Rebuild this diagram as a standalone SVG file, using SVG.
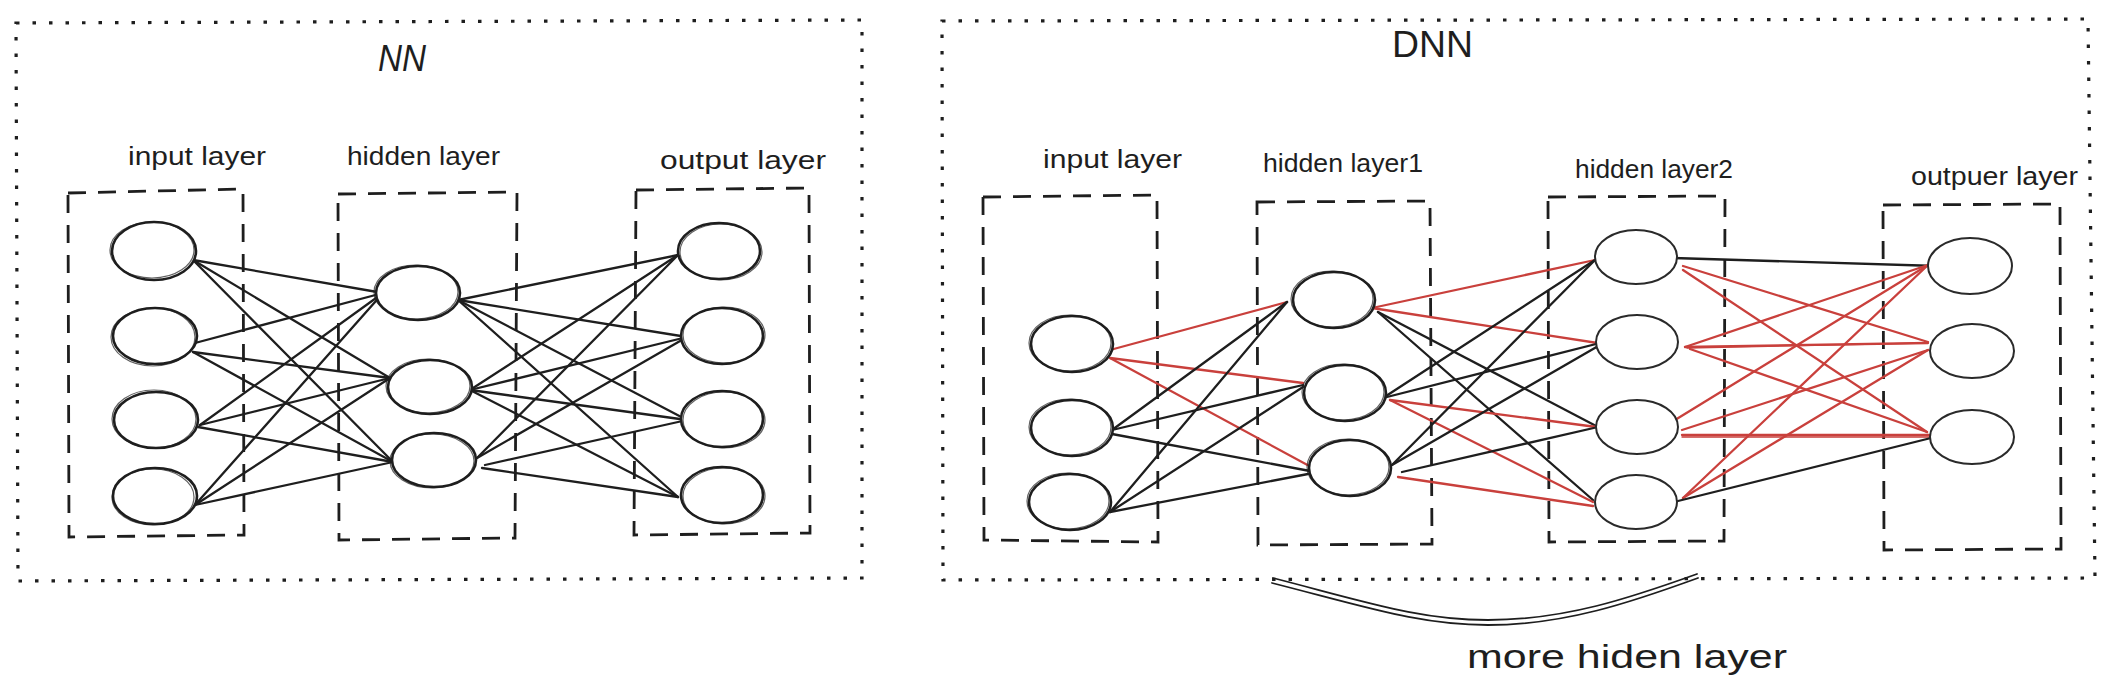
<svg xmlns="http://www.w3.org/2000/svg" width="2116" height="684" viewBox="0 0 2116 684">
<style>
.bg{fill:#ffffff}
.outer{fill:none;stroke:#1e1e1e;stroke-width:3.2;stroke-dasharray:3.5 13;stroke-linecap:butt}
.layer{fill:none;stroke:#1e1e1e;stroke-width:2.8;stroke-dasharray:18 12}
.node{fill:#ffffff;stroke:#1e1e1e;stroke-width:2.6}
.node2{fill:none;stroke:#1e1e1e;stroke-width:1.2;opacity:0.7}
.thin{fill:#ffffff;stroke:#2a2a2a;stroke-width:2}
.k{stroke:#1e1e1e;stroke-width:2.3;fill:none;stroke-linecap:round}
.r{stroke:#c9403c;stroke-width:2.3;fill:none;stroke-linecap:round}
.lbl{font-family:"Liberation Sans",Arial,sans-serif;font-size:25px;fill:#1e1e1e}
.ttl{font-family:"Liberation Sans",Arial,sans-serif;font-size:36px;fill:#1e1e1e;font-style:italic}
.big{font-family:"Liberation Sans",Arial,sans-serif;font-size:34px;fill:#1e1e1e}
</style>
<rect class="bg" x="0" y="0" width="2116" height="684"/>

<!-- outer frames -->
<g id="frame-nn">
<path class="outer" d="M16,23 L862,20 L862,578 L18,581 Z"/>
<text class="ttl" x="378" y="71" textLength="48" lengthAdjust="spacingAndGlyphs">NN</text>
</g>
<g id="frame-dnn">
<path class="outer" d="M942,21 L2088,19 L2095,578 L943,580 Z"/>
<text class="ttl" x="1392" y="57" textLength="81" lengthAdjust="spacingAndGlyphs" style="font-style:normal">DNN</text>
</g>

<!-- layer boxes -->
<g id="nn-input-layer">
<path class="layer" d="M68,193 L243,189 L244,535 L69,537 Z"/>
<text class="lbl" x="128" y="165" textLength="138" lengthAdjust="spacingAndGlyphs">input layer</text>
</g>
<g id="nn-hidden-layer">
<path class="layer" d="M338,194 L517,192 L515,538 L339,540 Z"/>
<text class="lbl" x="347" y="165" textLength="153" lengthAdjust="spacingAndGlyphs">hidden layer</text>
</g>
<g id="nn-output-layer">
<path class="layer" d="M636,190 L809,188 L810,533 L634,535 Z"/>
<text class="lbl" x="660" y="169" textLength="166" lengthAdjust="spacingAndGlyphs">output layer</text>
</g>
<g id="dnn-input-layer">
<path class="layer" d="M983,197 L1157,195 L1158,542 L984,540 Z"/>
<text class="lbl" x="1043" y="168" textLength="139" lengthAdjust="spacingAndGlyphs">input layer</text>
</g>
<g id="dnn-hidden-layer1">
<path class="layer" d="M1257,202 L1430,201 L1432,544 L1258,545 Z"/>
<text class="lbl" x="1263" y="172" textLength="160" lengthAdjust="spacingAndGlyphs">hidden layer1</text>
</g>
<g id="dnn-hidden-layer2">
<path class="layer" d="M1548,197 L1725,196 L1724,541 L1549,542 Z"/>
<text class="lbl" x="1575" y="178" textLength="158" lengthAdjust="spacingAndGlyphs">hidden layer2</text>
</g>
<g id="dnn-output-layer">
<path class="layer" d="M1883,205 L2060,204 L2061,549 L1884,550 Z"/>
<text class="lbl" x="1911" y="185" textLength="167" lengthAdjust="spacingAndGlyphs">outpuer layer</text>
</g>

<!-- connectors -->
<g id="connectors">
<!-- NN input -> hidden -->
<line class="k" x1="193" y1="260" x2="383" y2="293"/>
<line class="k" x1="193" y1="260" x2="390" y2="378"/>
<line class="k" x1="193" y1="260" x2="393" y2="462"/>
<line class="k" x1="195" y1="343" x2="383" y2="293"/>
<line class="k" x1="193" y1="352" x2="390" y2="378"/>
<line class="k" x1="193" y1="352" x2="393" y2="462"/>
<line class="k" x1="200" y1="425" x2="383" y2="293"/>
<line class="k" x1="200" y1="425" x2="390" y2="378"/>
<line class="k" x1="198" y1="427" x2="393" y2="462"/>
<line class="k" x1="195" y1="505" x2="383" y2="293"/>
<line class="k" x1="195" y1="505" x2="390" y2="378"/>
<line class="k" x1="195" y1="505" x2="393" y2="462"/>
<!-- NN hidden -> output -->
<line class="k" x1="458" y1="300" x2="678" y2="255"/>
<line class="k" x1="458" y1="300" x2="687" y2="337"/>
<line class="k" x1="458" y1="300" x2="687" y2="420"/>
<line class="k" x1="458" y1="300" x2="678" y2="497"/>
<line class="k" x1="470" y1="390" x2="678" y2="255"/>
<line class="k" x1="470" y1="390" x2="687" y2="337"/>
<line class="k" x1="470" y1="390" x2="687" y2="420"/>
<line class="k" x1="470" y1="390" x2="678" y2="497"/>
<line class="k" x1="477" y1="458" x2="678" y2="255"/>
<line class="k" x1="477" y1="458" x2="687" y2="337"/>
<line class="k" x1="485" y1="465" x2="687" y2="420"/>
<line class="k" x1="482" y1="468" x2="678" y2="497"/>

<!-- DNN input -> hidden1 -->
<line class="r" x1="1110" y1="350" x2="1287" y2="302"/>
<line class="r" x1="1110" y1="358" x2="1303" y2="383"/>
<line class="r" x1="1110" y1="358" x2="1313" y2="468"/>
<line class="k" x1="1112" y1="430" x2="1287" y2="302"/>
<line class="k" x1="1112" y1="430" x2="1303" y2="385"/>
<line class="k" x1="1112" y1="434" x2="1310" y2="471"/>
<line class="k" x1="1110" y1="512" x2="1287" y2="302"/>
<line class="k" x1="1110" y1="512" x2="1303" y2="387"/>
<line class="k" x1="1110" y1="512" x2="1308" y2="474"/>
<!-- DNN hidden1 -> hidden2 -->
<line class="r" x1="1372" y1="308" x2="1595" y2="260"/>
<line class="r" x1="1372" y1="308" x2="1604" y2="344"/>
<line class="k" x1="1378" y1="312" x2="1598" y2="427"/>
<line class="k" x1="1378" y1="312" x2="1593" y2="500"/>
<line class="k" x1="1383" y1="398" x2="1595" y2="260"/>
<line class="k" x1="1383" y1="398" x2="1600" y2="343"/>
<line class="r" x1="1390" y1="400" x2="1604" y2="428"/>
<line class="r" x1="1390" y1="400" x2="1593" y2="502"/>
<line class="k" x1="1392" y1="465" x2="1595" y2="260"/>
<line class="k" x1="1392" y1="465" x2="1600" y2="345"/>
<line class="k" x1="1402" y1="472" x2="1598" y2="427"/>
<line class="r" x1="1398" y1="477" x2="1593" y2="506"/>
<!-- DNN hidden2 -> output -->
<line class="k" x1="1673" y1="258" x2="1937" y2="266"/>
<line class="r" x1="1683" y1="266" x2="1928" y2="342"/>
<line class="r" x1="1683" y1="270" x2="1927" y2="432"/>
<line class="r" x1="1685" y1="347" x2="1928" y2="265"/>
<line class="r" x1="1685" y1="347" x2="1928" y2="343"/>
<line class="r" x1="1687" y1="348" x2="1928" y2="343" style="stroke-width:1.4"/>
<line class="r" x1="1690" y1="349" x2="1927" y2="432"/>
<line class="r" x1="1675" y1="420" x2="1928" y2="265"/>
<line class="r" x1="1682" y1="430" x2="1928" y2="350"/>
<line class="r" x1="1682" y1="435" x2="1943" y2="435"/>
<line class="r" x1="1682" y1="437" x2="1930" y2="437" style="stroke-width:1.4"/>
<line class="r" x1="1683" y1="498" x2="1928" y2="265"/>
<line class="r" x1="1683" y1="498" x2="1928" y2="350"/>
<line class="k" x1="1670" y1="503" x2="1943" y2="435"/>

<!-- more hidden layer brace -->
<path class="k" d="M1273,578 C1370,603 1420,620 1488,620 C1565,620 1630,598 1697,574" style="stroke-width:1.8"/>
<path class="k" d="M1272,583 C1370,608 1420,625 1488,625 C1565,625 1632,602 1698,578" style="stroke-width:1.8"/>
</g>

<!-- NN nodes -->
<g id="nn-i1"><ellipse class="node" cx="154" cy="251" rx="42" ry="29"/><ellipse class="node2" cx="152" cy="250" rx="42" ry="28"/></g>
<g id="nn-i2"><ellipse class="node" cx="155" cy="336" rx="42" ry="28"/><ellipse class="node2" cx="153" cy="337" rx="42" ry="29"/></g>
<g id="nn-i3"><ellipse class="node" cx="156" cy="420" rx="42" ry="28"/><ellipse class="node2" cx="154" cy="419" rx="42" ry="29"/></g>
<g id="nn-i4"><ellipse class="node" cx="155" cy="496" rx="42" ry="28"/><ellipse class="node2" cx="153" cy="497" rx="41" ry="28"/></g>
<g id="nn-h1"><ellipse class="node" cx="418" cy="293" rx="42" ry="27"/><ellipse class="node2" cx="416" cy="292" rx="42" ry="27"/></g>
<g id="nn-h2"><ellipse class="node" cx="430" cy="387" rx="42" ry="27"/><ellipse class="node2" cx="428" cy="386" rx="42" ry="27"/></g>
<g id="nn-h3"><ellipse class="node" cx="434" cy="460" rx="42" ry="27"/><ellipse class="node2" cx="432" cy="461" rx="42" ry="27"/></g>
<g id="nn-o1"><ellipse class="node" cx="719" cy="251" rx="41" ry="28"/><ellipse class="node2" cx="721" cy="252" rx="41" ry="28"/></g>
<g id="nn-o2"><ellipse class="node" cx="722" cy="336" rx="41" ry="28"/><ellipse class="node2" cx="724" cy="335" rx="41" ry="28"/></g>
<g id="nn-o3"><ellipse class="node" cx="722" cy="419" rx="41" ry="28"/><ellipse class="node2" cx="724" cy="420" rx="41" ry="28"/></g>
<g id="nn-o4"><ellipse class="node" cx="722" cy="495" rx="41" ry="28"/><ellipse class="node2" cx="724" cy="496" rx="41" ry="28"/></g>

<!-- DNN nodes -->
<g id="dnn-i1"><ellipse class="node" cx="1072" cy="344" rx="41" ry="28"/><ellipse class="node2" cx="1070" cy="343" rx="41" ry="28"/></g>
<g id="dnn-i2"><ellipse class="node" cx="1072" cy="428" rx="41" ry="28"/><ellipse class="node2" cx="1070" cy="427" rx="41" ry="28"/></g>
<g id="dnn-i3"><ellipse class="node" cx="1070" cy="502" rx="41" ry="28"/><ellipse class="node2" cx="1068" cy="501" rx="41" ry="28"/></g>
<g id="dnn-h1-1"><ellipse class="node" cx="1334" cy="300" rx="41" ry="28"/><ellipse class="node2" cx="1332" cy="299" rx="41" ry="28"/></g>
<g id="dnn-h1-2"><ellipse class="node" cx="1345" cy="393" rx="41" ry="28"/><ellipse class="node2" cx="1343" cy="392" rx="41" ry="28"/></g>
<g id="dnn-h1-3"><ellipse class="node" cx="1350" cy="468" rx="41" ry="28"/><ellipse class="node2" cx="1348" cy="467" rx="41" ry="28"/></g>
<g id="dnn-h2-1"><ellipse class="thin" cx="1636" cy="257" rx="41" ry="27"/></g>
<g id="dnn-h2-2"><ellipse class="thin" cx="1637" cy="342" rx="41" ry="27"/></g>
<g id="dnn-h2-3"><ellipse class="thin" cx="1637" cy="427" rx="41" ry="27"/></g>
<g id="dnn-h2-4"><ellipse class="thin" cx="1636" cy="502" rx="41" ry="27"/></g>
<g id="dnn-o1"><ellipse class="thin" cx="1970" cy="266" rx="42" ry="28"/></g>
<g id="dnn-o2"><ellipse class="thin" cx="1972" cy="351" rx="42" ry="27"/></g>
<g id="dnn-o3"><ellipse class="thin" cx="1972" cy="437" rx="42" ry="27"/></g>

<g id="note">
<text class="big" x="1467" y="668" textLength="320" lengthAdjust="spacingAndGlyphs">more hiden layer</text>
</g>
</svg>
